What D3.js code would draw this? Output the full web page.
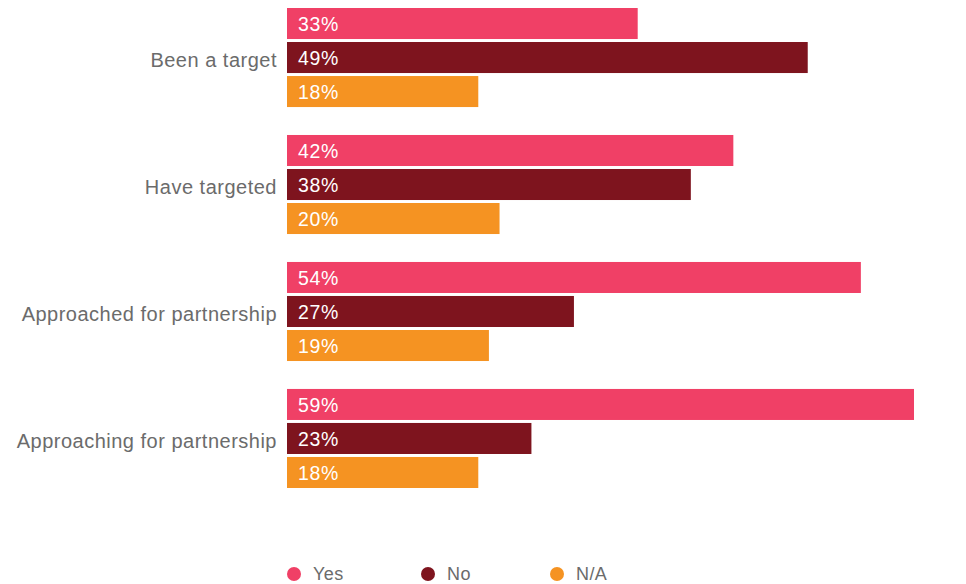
<!DOCTYPE html>
<html><head><meta charset="utf-8">
<script src="https://cdn.jsdelivr.net/npm/d3@7/dist/d3.min.js"></script>
<style>body{margin:0;background:#fff;}svg{display:block;font-family:"Liberation Sans",Arial,Helvetica,sans-serif;}</style>
</head><body><svg id="c" width="966" height="584"></svg>
<script>
const categories = ["Been a target", "Have targeted", "Approached for partnership", "Approaching for partnership"];
const seriesNames = ["Yes", "No", "N/A"];
const yesValues = [33, 42, 54, 59];
const noValues = [49, 38, 27, 23];
const naValues = [18, 20, 19, 18];
const colors = ["#f04066", "#7e141e", "#f59322"];

const seriesValues = [yesValues, noValues, naValues];
const svg = d3.select("#c");
const x = d3.scaleLinear().domain([0, 59]).range([287, 914]);
const y0 = d3.scaleBand().domain(categories).range([8, 488]).paddingInner(0.22).paddingOuter(0);
const y1 = d3.scaleBand().domain(seriesNames).range([0, y0.bandwidth()]).paddingInner(0.088);

const groups = svg.selectAll("g.grp").data(categories).join("g")
  .attr("transform", d => `translate(0,${y0(d)})`);

groups.each(function(cat, ci) {
  const g = d3.select(this);
  seriesNames.forEach((s, si) => {
    const v = seriesValues[si][ci];
    g.append("rect").attr("x", x(0)).attr("y", y1(s))
      .attr("width", x(v) - x(0)).attr("height", y1.bandwidth())
      .attr("fill", colors[si]);
    g.append("text").attr("x", x(0) + 11).attr("y", y1(s) + y1.bandwidth() / 2)
      .attr("dy", "0.4em").attr("fill", "#fff").attr("font-size", 19.5)
      .attr("letter-spacing", 0.6).text(v + "%");
  });
  g.append("text").attr("x", 277).attr("y", y1("No") + y1.bandwidth() / 2 + 2.5)
    .attr("dy", "0.36em").attr("text-anchor", "end").attr("fill", "#6b6b6b")
    .attr("font-size", 20).attr("letter-spacing", 0.5).text(cat);
});

const legendX = [294, 428, 557];
const lg = svg.selectAll("g.lg").data(seriesNames).join("g")
  .attr("transform", (d, i) => `translate(${legendX[i]},574)`);
lg.append("circle").attr("r", 7).attr("fill", (d, i) => colors[i]);
lg.append("text").attr("x", 19).attr("dy", "0.36em").attr("fill", "#6b6b6b")
  .attr("font-size", 18).attr("letter-spacing", 0.4).text(d => d);
</script></body></html>
